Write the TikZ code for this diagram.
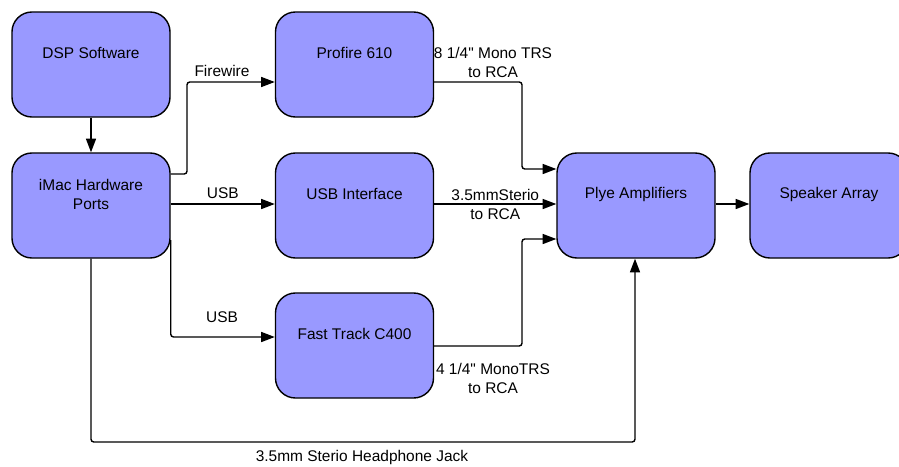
\documentclass[tikz,border=0pt]{standalone}
\usepackage{fontspec}
\setmainfont{Liberation Sans}
\usetikzlibrary{arrows.meta}
\definecolor{boxblue}{HTML}{9999FF}
\tikzset{
  block/.style={draw, line width=1pt, fill=boxblue, rounded corners=0.5cm,
    minimum width=3.95cm, minimum height=2.625cm,
    label={[yshift=0.28cm, align=center]center:#1}},
  conn/.style={line width=1pt, rounded corners=2pt,
    -{Triangle[length=0.34cm,width=0.25cm]}},
}
\begin{document}
\begin{tikzpicture}[x=0.025cm, y=-0.025cm, font=\fontsize{11}{13.5}\selectfont]
    \useasboundingbox (0,0) rectangle (899,466);

    % Boxes
    \node[block={DSP Software}] (dsp) at (91,64.5) {};
    \node[block={iMac Hardware\\Ports}] (imac) at (91,205.5) {};
    \node[block={Profire 610}] (profire) at (354.5,64.5) {};
    \node[block={USB Interface}] (usbif) at (354.5,205.5) {};
    \node[block={Fast Track C400}] (fast) at (354.5,345.5) {};
    \node[block={Plye Amplifiers}] (plye) at (636,205.5) {};
    \node[block={Speaker Array}] (spk) at (829,205.5) {};

    % Computer side
    \draw[conn] (dsp) -- (imac);
    \draw[conn] (imac.east |- 0,174) -- (187,174) |- (profire.west |- 0,82);
    \node (fw) at (222,71) {Firewire};
    \draw[conn] (imac.east |- 0,204) -- (usbif.west |- 0,204)
        node[midway, above] {USB};
    \draw[conn] (imac.east |- 0,240) |- (fast.west |- 0,337);
    \node (usb2) at (222,317) {USB};

    % Into the amplifiers
    \draw[conn] (profire.east |- 0,82) -| (522,169) -- (plye.west |- 0,169);
    \node[align=center] (trs8) at (493,62) {8 1/4\textquotedbl{} Mono TRS\\to RCA};
    \draw[conn] (usbif.east |- 0,204) -- (plye.west |- 0,204)
        node[midway, align=center] {3.5mmSterio\\to RCA};
    \draw[conn] (fast.east |- 0,346) -| (522,239) -- (plye.west |- 0,239);
    \node[align=center] (trs4) at (493,378.5) {4 1/4\textquotedbl{} MonoTRS\\to RCA};
    \draw[conn] (imac.south) |- (635,442) -- (plye.south -| 635,0);
    \node (jack) at (362,457) {3.5mm Sterio Headphone Jack};

    % Output
    \draw[conn] (plye.east |- 0,204) -- (spk.west |- 0,204);

\end{tikzpicture}
\end{document}
